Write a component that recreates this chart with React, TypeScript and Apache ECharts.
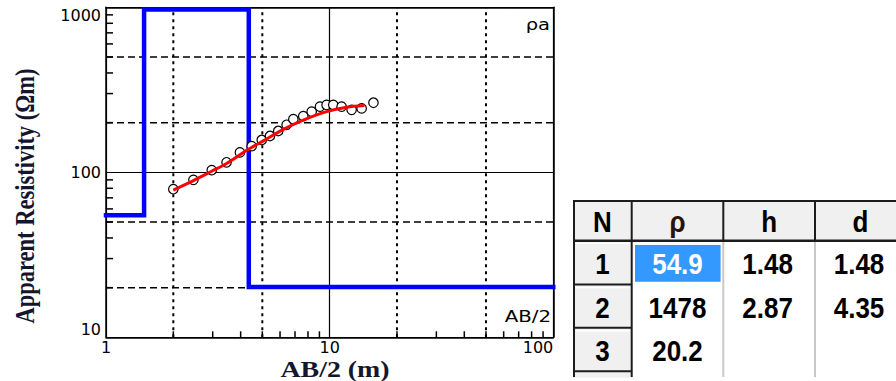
import React, { useEffect, useRef } from "react";
import * as echarts from "echarts";

// ---- Inverted layer model ----
const layerN = [1, 2, 3];
const layerRho = [54.9, 1478, 20.2];
const layerH = [1.48, 2.87];
const layerD = [1.48, 4.35];

// ---- Field data (apparent resistivity vs AB/2) ----
const obsAB2 = [2.0, 2.46, 2.97, 3.46, 3.97, 4.48, 4.97, 5.41, 5.89, 6.42, 6.88, 7.62, 8.31, 9.05, 9.69, 10.38, 11.31, 12.54, 13.9, 15.7];
const obsRho = [79, 90, 103, 115, 132, 144, 157, 166, 178, 194, 210, 219, 233, 250, 256, 256, 250, 239, 244, 264];

// ---- Model response curve (red) ----
const fitAB2 = [2.0, 2.46, 2.97, 3.46, 4.26, 5.05, 6.21, 7.62, 9.69, 11.93, 14.3];
const fitRho = [78, 89, 101.5, 113, 136, 155, 182, 207, 233, 248, 254];

// ---- Axes ----
const xRange = [1, 100];
const yRange = [10, 1000];
const xMinorTicks = [2, 3, 4, 5, 6, 7, 8, 9, 20, 30, 40, 50, 60, 70, 80, 90];
const yMinorTicks = [20, 30, 40, 50, 60, 70, 80, 90, 200, 300, 400, 500, 600, 700, 800, 900];
const xDottedLines = [2, 5, 20, 50];
const yDashedLines = [20, 50, 200, 500];

// ---- Table ----
const tableHeader = ["N", "ρ", "h", "d"];

const MODEL_DISPLAY_MAX = 970; // model values above the axis are drawn at the top edge

const fmtTick = (v: number) => String(Math.round(v));

function buildModelLine() {
  const pts: number[][] = [];
  const clamp = (v: number) => Math.min(v, MODEL_DISPLAY_MAX);
  let x0 = xRange[0];
  for (let i = 0; i < layerRho.length; i++) {
    const x1 = i < layerD.length ? layerD[i] : xRange[1];
    pts.push([x0, clamp(layerRho[i])]);
    pts.push([x1, clamp(layerRho[i])]);
    x0 = x1;
  }
  return pts;
}

function buildTable(): any[] {
  const colX = [573, 631.7, 723.3, 815, 906];
  const rowY = [200, 240.7, 285, 328.3, 371.7];
  const dark = "#1c1c1c";
  const els: any[] = [];
  const font = { fontFamily: "Liberation Sans", fontWeight: "bold", fontSize: 26 };
  const textScaleY = 1.15;
  // header background
  els.push({ type: "rect", shape: { x: colX[0], y: rowY[0], width: 896 - colX[0], height: rowY[1] - rowY[0] }, style: { fill: "#f0f0f0" } });
  // N column backgrounds
  for (let r = 1; r < rowY.length; r++) {
    const h = r < rowY.length - 1 ? rowY[r + 1] - rowY[r] : 6;
    els.push({ type: "rect", shape: { x: colX[0], y: rowY[r], width: colX[1] - colX[0], height: h }, style: { fill: "#f0f0f0" } });
  }
  // selected cell
  els.push({ type: "rect", shape: { x: colX[1] + 3.3, y: rowY[1] + 4.3, width: colX[2] - colX[1] - 6, height: rowY[2] - rowY[1] - 7.5 }, style: { fill: "#3399ff" } });
  // light separators in body
  for (let c = 2; c < 4; c++) {
    els.push({ type: "line", shape: { x1: colX[c], y1: rowY[1], x2: colX[c], y2: 377 }, style: { stroke: "#c8c8c8", lineWidth: 2 } });
  }
  // N cell 3D borders
  for (let r = 1; r < rowY.length - 1; r++) {
    els.push({ type: "line", shape: { x1: colX[0] + 2, y1: rowY[r] + 2.5, x2: colX[1] - 2, y2: rowY[r] + 2.5 }, style: { stroke: "#ffffff", lineWidth: 1.5 } });
    els.push({ type: "line", shape: { x1: colX[0], y1: rowY[r + 1] - 0.5, x2: colX[1], y2: rowY[r + 1] - 0.5 }, style: { stroke: dark, lineWidth: 2 } });
  }
  // dark grid
  els.push({ type: "line", shape: { x1: colX[0], y1: rowY[0] + 1, x2: 896, y2: rowY[0] + 1 }, style: { stroke: dark, lineWidth: 2 } });
  els.push({ type: "line", shape: { x1: colX[0], y1: rowY[1], x2: 896, y2: rowY[1] }, style: { stroke: dark, lineWidth: 2.5 } });
  els.push({ type: "line", shape: { x1: colX[0] + 1, y1: rowY[0], x2: colX[0] + 1, y2: 377 }, style: { stroke: dark, lineWidth: 2 } });
  els.push({ type: "line", shape: { x1: colX[1], y1: rowY[0], x2: colX[1], y2: 377 }, style: { stroke: dark, lineWidth: 2 } });
  for (let c = 2; c < 4; c++) {
    els.push({ type: "line", shape: { x1: colX[c], y1: rowY[0], x2: colX[c], y2: rowY[1] }, style: { stroke: dark, lineWidth: 2 } });
  }
  // header texts
  tableHeader.forEach((t, c) => {
    els.push({
      type: "text", x: (colX[c] + colX[c + 1]) / 2, y: (rowY[0] + rowY[1]) / 2 + 1.5, scaleY: textScaleY,
      style: { text: t, ...font, fill: c === 1 ? "#2a1506" : "#000", align: "center", verticalAlign: "middle", textAlign: "center", textVerticalAlign: "middle" },
    });
  });
  // body texts
  layerN.forEach((n, r) => {
    const cells = [String(n), String(layerRho[r]), r < layerH.length ? String(layerH[r]) : "", r < layerD.length ? String(layerD[r]) : ""];
    cells.forEach((t, c) => {
      if (!t) return;
      els.push({
        type: "text", x: (colX[c] + colX[c + 1]) / 2 - (c >= 2 ? 1.5 : 0), y: (rowY[r + 1] + rowY[r + 2]) / 2 + 1, scaleY: textScaleY,
        style: { text: t, ...font, fill: r === 0 && c === 1 ? "#ffffff" : "#000", align: "center", verticalAlign: "middle", textAlign: "center", textVerticalAlign: "middle" },
      });
    });
  });
  return els;
}

export default function App() {
  const ref = useRef<HTMLDivElement>(null);
  useEffect(() => {
    if (!ref.current) return;
    const chart = echarts.init(ref.current, null, { renderer: "svg" });
    const axisLineStyle = { color: "#000", width: 1.5 };
    const labelStyle = { color: "#000", fontFamily: "DejaVu Sans", fontSize: 16 };

    const vLine = (values: number[], dash: number[], width: number) => ({
      type: "custom",
      silent: true,
      clip: false,
      z: 1,
      data: values.map((v) => [v, yRange[0]]),
      renderItem: (_p: any, api: any) => {
        const v = api.value(0);
        const a = api.coord([v, yRange[0]]);
        const b = api.coord([v, yRange[1]]);
        return { type: "line", shape: { x1: a[0], y1: a[1], x2: b[0], y2: b[1] }, style: { stroke: "#000", lineWidth: width, lineDash: dash } };
      },
    });
    const hLine = (values: number[], dash: number[], width: number) => ({
      type: "custom",
      silent: true,
      clip: false,
      z: 1,
      data: values.map((v) => [xRange[0], v]),
      renderItem: (_p: any, api: any) => {
        const v = api.value(1);
        const a = api.coord([xRange[0], v]);
        const b = api.coord([xRange[1], v]);
        return { type: "line", shape: { x1: a[0], y1: a[1], x2: b[0], y2: b[1] }, style: { stroke: "#000", lineWidth: width, lineDash: dash } };
      },
    });
    const xTicks = {
      type: "custom", silent: true, clip: false, z: 2,
      data: xMinorTicks.map((v) => [v, yRange[0]]),
      renderItem: (_p: any, api: any) => {
        const a = api.coord([api.value(0), yRange[0]]);
        return { type: "line", shape: { x1: a[0], y1: a[1], x2: a[0], y2: a[1] - 6 }, style: { stroke: "#000", lineWidth: 1.5 } };
      },
    };
    const yTicks = {
      type: "custom", silent: true, clip: false, z: 2,
      data: yMinorTicks.map((v) => [xRange[0], v]),
      renderItem: (_p: any, api: any) => {
        const a = api.coord([xRange[0], api.value(1)]);
        return { type: "line", shape: { x1: a[0], y1: a[1], x2: a[0] + 7, y2: a[1] }, style: { stroke: "#000", lineWidth: 1.5 } };
      },
    };

    const option: any = {
      animation: false,
      backgroundColor: "#ffffff",
      grid: { left: 106, top: 7.3, width: 447.3, height: 330 },
      xAxis: [
        {
          type: "log", logBase: 10, min: xRange[0], max: xRange[1], position: "bottom",
          axisLine: { show: true, onZero: false, lineStyle: axisLineStyle },
          axisTick: { show: false },
          splitLine: { show: true, lineStyle: { color: "#000", width: 1.2 } },
          axisLabel: { ...labelStyle, margin: 2, formatter: fmtTick, alignMaxLabel: "right" },
        },
        {
          type: "log", logBase: 10, min: xRange[0], max: xRange[1], position: "top",
          axisLine: { show: true, onZero: false, lineStyle: axisLineStyle },
          axisTick: { show: false }, axisLabel: { show: false }, splitLine: { show: false },
        },
      ],
      yAxis: [
        {
          type: "log", logBase: 10, min: yRange[0], max: yRange[1], position: "left",
          axisLine: { show: true, onZero: false, lineStyle: axisLineStyle },
          axisTick: { show: false },
          splitLine: { show: true, lineStyle: { color: "#000", width: 1.2 } },
          axisLabel: { ...labelStyle, margin: 5, formatter: fmtTick, verticalAlignMinLabel: "bottom", verticalAlignMaxLabel: "top" },
        },
        {
          type: "log", logBase: 10, min: yRange[0], max: yRange[1], position: "right",
          axisLine: { show: true, onZero: false, lineStyle: axisLineStyle },
          axisTick: { show: false }, axisLabel: { show: false }, splitLine: { show: false },
        },
      ],
      graphic: [
        {
          type: "text", x: 25, y: 196, rotation: Math.PI / 2, scaleY: 1.22,
          style: { text: "Apparent Resistivity (Ωm)", fontFamily: "Liberation Serif", fontWeight: "bold", fontSize: 22.5, fill: "#15152e", align: "center", verticalAlign: "middle", textAlign: "center", textVerticalAlign: "middle" },
        },
        {
          type: "text", x: 335, y: 369, scaleX: 1.24,
          style: { text: "AB/2 (m)", fontFamily: "Liberation Serif", fontWeight: "bold", fontSize: 22.5, fill: "#15152e", align: "center", verticalAlign: "middle", textAlign: "center", textVerticalAlign: "middle" },
        },
        {
          type: "text", x: 550, y: 25, scaleX: 1.3,
          style: { text: "ρa", fontFamily: "DejaVu Sans", fontSize: 15, fill: "#000", align: "right", verticalAlign: "middle", textAlign: "right", textVerticalAlign: "middle" },
        },
        {
          type: "text", x: 551, y: 317, scaleX: 1.32,
          style: { text: "AB/2", fontFamily: "DejaVu Sans", fontSize: 15, fill: "#000", align: "right", verticalAlign: "middle", textAlign: "right", textVerticalAlign: "middle" },
        },
        ...buildTable(),
      ],
      series: [
        vLine(xDottedLines, [3, 4], 2),
        hLine(yDashedLines, [7, 4], 1.5),
        xTicks,
        yTicks,
        {
          type: "line", name: "model", data: buildModelLine(), showSymbol: false, symbol: "none", clip: false, z: 3,
          lineStyle: { color: "#0000ff", width: 4.5, cap: "square", join: "miter" },
        },
        {
          type: "scatter", name: "observed", data: obsAB2.map((x, i) => [x, obsRho[i]]), symbol: "circle", symbolSize: 9.5, z: 4,
          itemStyle: { color: "#ffffff", borderColor: "#000", borderWidth: 1.2, opacity: 1 },
        },
        {
          type: "line", name: "fit", data: fitAB2.map((x, i) => [x, fitRho[i]]), showSymbol: false, symbol: "none", smooth: 0.3, z: 5,
          lineStyle: { color: "#ff0000", width: 3 },
        },
      ],
    };
    chart.setOption(option);
    return () => chart.dispose();
  }, []);
  return <div ref={ref} style={{ position: "fixed", left: 0, top: 0, width: 896, height: 381, background: "#fff" }} />;
}
